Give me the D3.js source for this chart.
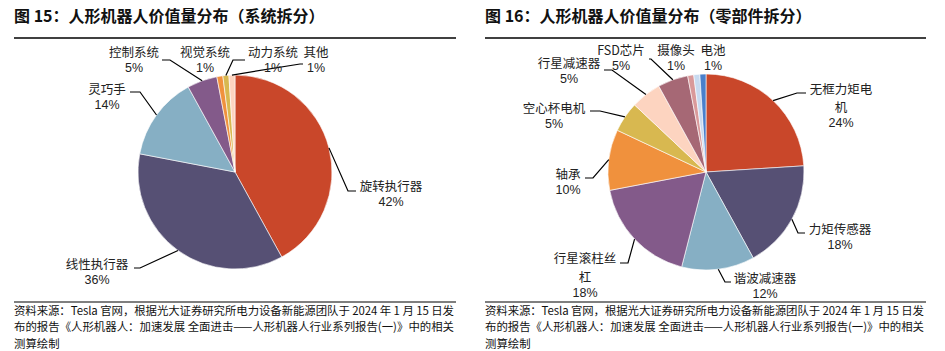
<!DOCTYPE html>
<html>
<head>
<meta charset="utf-8">
<script src="https://cdn.jsdelivr.net/npm/d3@7"></script>
<style>
  body { margin: 0; background: #fff; }
  svg { display: block; }
</style>
</head>
<body>
<script>
// 数据
const leftTitle = "图 15：人形机器人价值量分布（系统拆分）";
const leftCats = ["旋转执行器", "线性执行器", "灵巧手", "控制系统", "视觉系统", "动力系统", "其他"];
const leftValues = [42, 36, 14, 5, 1, 1, 1];

const rightTitle = "图 16：人形机器人价值量分布（零部件拆分）";
const rightCats = ["无框力矩电机", "力矩传感器", "谐波减速器", "行星滚柱丝杠", "轴承", "空心杯电机",
  "行星减速器", "FSD芯片", "摄像头", "其他", "电池"];
const rightValues = [24, 18, 12, 18, 10, 5, 5, 5, 1, 1, 1];

const footLines = [
  "资料来源：Tesla 官网，根据光大证券研究所电力设备新能源团队于 2024 年 1 月 15 日发",
  "布的报告《人形机器人：加速发展 全面进击——人形机器人行业系列报告(一)》中的相关",
  "测算绘制"
];

const palette = ["#C9472A", "#565074", "#86AFC4", "#835A8A", "#F0913D", "#D8B850",
  "#FDD4C0", "#A66875", "#D9999A", "#C8DAF0", "#4A80CC"];

// 标签位置 (布局)
const leftLayout = {
  "旋转执行器": { lines: ["旋转执行器"], x: 391, y: 187, elbow: [348, 191], end: 356 },
  "线性执行器": { lines: ["线性执行器"], x: 97, y: 265, elbow: [140, 268], end: 134 },
  "灵巧手": { lines: ["灵巧手"], x: 107, y: 90, elbow: [140, 92], end: 130 },
  "控制系统": { lines: ["控制系统"], x: 134, y: 53, elbow: [170, 60], end: 162 },
  "视觉系统": { lines: ["视觉系统"], x: 205, y: 53 },
  "动力系统": { lines: ["动力系统"], x: 273, y: 53, elbow: [233, 60], end: 245 },
  "其他": { lines: ["其他"], x: 316, y: 53, elbow: [300, 64], end: 303 }
};
const rightLayout = {
  "无框力矩电机": { lines: ["无框力矩电", "机"], x: 841, y: 89.5, elbow: [797, 93], end: 806 },
  "力矩传感器": { lines: ["力矩传感器"], x: 840, y: 230, elbow: [798, 233], end: 805 },
  "谐波减速器": { lines: ["谐波减速器"], x: 765, y: 279, elbow: [725, 282], end: 731 },
  "行星滚柱丝杠": { lines: ["行星滚柱丝", "杠"], x: 585, y: 259, elbow: [628, 263], end: 620 },
  "轴承": { lines: ["轴承"], x: 568, y: 175, elbow: [593, 178], end: 585 },
  "空心杯电机": { lines: ["空心杯电机"], x: 554, y: 109, elbow: [600, 111], end: 590 },
  "行星减速器": { lines: ["行星减速器"], x: 569, y: 64, elbow: [612, 70], end: 604 },
  "FSD芯片": { lines: ["FSD芯片"], x: 621, y: 51, elbow: [651, 59], end: 649 },
  "摄像头": { lines: ["摄像头"], x: 676, y: 51 },
  "电池": { lines: ["电池"], x: 713, y: 51 }
};

const W = 945, H = 351;
const svg = d3.select("body").append("svg").attr("width", W).attr("height", H);

const cjk = "'Noto Sans CJK SC', 'Noto Sans', sans-serif";
const latin = "'Liberation Sans', 'Noto Sans CJK SC', sans-serif";

function panel(x0, x1, title, cats, values, layout, cx, cy, r) {
  const g = svg.append("g");

  // 标题
  g.append("text")
    .attr("x", x0).attr("y", 22)
    .attr("font-family", cjk).attr("font-weight", "bold").attr("font-size", 16)
    .attr("fill", "#111")
    .text(title);
  g.append("line")
    .attr("x1", x0).attr("x2", x1).attr("y1", 38).attr("y2", 38)
    .attr("stroke", "#000").attr("stroke-width", 1.3);

  const data = cats.map((c, i) => ({ name: c, value: values[i] }));
  const pie = d3.pie().sort(null).value(d => d.value).startAngle(0).endAngle(2 * Math.PI);
  const arcs = pie(data);
  const arc = d3.arc().innerRadius(0).outerRadius(r);
  const color = d3.scaleOrdinal().domain(cats).range(palette);

  const pg = g.append("g").attr("transform", `translate(${cx},${cy})`);
  pg.selectAll("path")
    .data(arcs)
    .enter()
    .append("path")
    .attr("d", arc)
    .attr("fill", d => color(d.data.name))
    .attr("stroke", "#fff")
    .attr("stroke-width", 0.6);

  // 引导线
  arcs.forEach(d => {
    const L = layout[d.data.name];
    if (!L || !L.elbow) return;
    const a = (d.startAngle + d.endAngle) / 2;
    const sx = cx + r * Math.sin(a), sy = cy - r * Math.cos(a);
    g.append("polyline")
      .attr("points", `${sx},${sy} ${L.elbow[0]},${L.elbow[1]} ${L.end},${L.elbow[1]}`)
      .attr("fill", "none").attr("stroke", "#000").attr("stroke-width", 1.2);
  });

  // 标签
  arcs.forEach(d => {
    const L = layout[d.data.name];
    if (!L) return;
    const t = g.append("text")
      .attr("text-anchor", "middle")
      .attr("font-size", 12.5)
      .attr("fill", "#222");
    let y = L.y;
    L.lines.forEach((ln, i) => {
      if (i > 0) y += 18.3;
      t.append("tspan")
        .attr("x", L.x).attr("y", y)
        .attr("dy", "0.35em")
        .attr("font-family", cjk)
        .text(ln);
    });
    t.append("tspan")
      .attr("x", L.x).attr("y", y + 15)
      .attr("dy", "0.35em")
      .attr("font-family", latin)
      .text(d.data.value + "%");
  });

  // 资料来源
  g.append("line")
    .attr("x1", x0).attr("x2", x1).attr("y1", 302).attr("y2", 302)
    .attr("stroke", "#000").attr("stroke-width", 1.2);
  footLines.forEach((ln, i) => {
    const t = g.append("text")
      .attr("x", x0).attr("y", 315 + i * 16.3)
      .attr("font-family", cjk).attr("font-size", 11.4)
      .attr("fill", "#111")
      .text(ln);
    if (i < 2) t.attr("textLength", x1 - x0 - 2).attr("lengthAdjust", "spacing");
  });
}

panel(14, 456, leftTitle, leftCats, leftValues, leftLayout, 235, 172, 97);
panel(485, 926, rightTitle, rightCats, rightValues, rightLayout, 706, 172, 98);
</script>
</body>
</html>
